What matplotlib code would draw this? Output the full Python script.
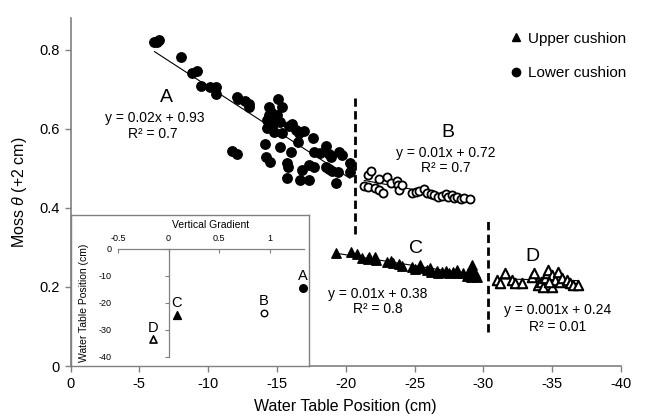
import numpy as np
import matplotlib.pyplot as plt
from matplotlib.lines import Line2D

plt.rcParams['font.family'] = ['Liberation Sans', 'DejaVu Sans']
plt.rcParams['mathtext.fontset'] = 'custom'
plt.rcParams['mathtext.rm'] = 'Liberation Sans'
plt.rcParams['mathtext.it'] = 'Liberation Sans:italic'

# Lower cushion, water table above the break (A, filled circles)
a_wt = [-6.1, -6.3, -6.4, -8.0, -8.8, -9.2, -9.5, -10.1, -10.6, -10.6,
        -12.1, -12.2, -12.7, -13.0, -13.0, -11.7, -12.1,
        -14.4, -15.1, -15.4, -14.6, -14.4, -15.0, -14.3, -14.8, -15.2, -14.3, -14.8, -15.4,
        -14.1, -15.2, -14.2, -14.5, -15.7, -15.8, -15.7, -16.0,
        -15.9, -16.1, -16.4, -16.6, -17.0, -16.5, -17.6, -16.8, -17.3, -17.7, -16.7, -17.3,
        -17.7, -18.1, -18.6, -18.8, -18.9, -19.5, -19.7, -18.6, -18.8, -19.0, -19.4,
        -20.3, -20.3, -19.3]
a_theta = [0.818, 0.820, 0.823, 0.782, 0.742, 0.747, 0.709, 0.706, 0.706, 0.689,
           0.681, 0.676, 0.671, 0.663, 0.656, 0.544, 0.537,
           0.656, 0.676, 0.656, 0.643, 0.635, 0.635, 0.623, 0.615, 0.618, 0.603, 0.592, 0.590,
           0.562, 0.554, 0.529, 0.516, 0.514, 0.504, 0.476, 0.542,
           0.608, 0.613, 0.597, 0.590, 0.595, 0.567, 0.577, 0.496, 0.509, 0.504, 0.471, 0.471,
           0.542, 0.539, 0.557, 0.537, 0.529, 0.542, 0.534, 0.504, 0.499, 0.494, 0.491,
           0.514, 0.491, 0.463]

# Lower cushion, below the break (B, open circles)
b_wt = [-21.35, -21.6, -22.1, -22.4, -22.7, -21.6, -21.8, -22.4, -23.0, -23.3,
        -23.7, -23.8, -23.9, -24.1, -24.8, -25.1, -25.3, -25.7, -25.9, -26.2,
        -26.4, -26.7, -27.0, -27.3, -27.4, -27.7, -27.9, -28.1, -28.4, -28.6, -29.0]
b_theta = [0.456, 0.453, 0.451, 0.446, 0.438, 0.484, 0.494, 0.473, 0.478, 0.463,
           0.468, 0.458, 0.446, 0.458, 0.438, 0.441, 0.443, 0.448, 0.438, 0.435,
           0.433, 0.428, 0.430, 0.435, 0.428, 0.433, 0.425, 0.428, 0.423, 0.425, 0.423]

# Upper cushion, above the second break (C, filled triangles)
c_wt = [-19.3, -20.4, -20.8, -21.2, -21.6, -21.7, -22.1, -22.2, -23.0, -23.3,
        -23.4, -23.9, -24.1, -24.8, -25.0, -25.4, -25.5, -25.9, -26.1, -26.2,
        -26.6, -26.7, -27.0, -27.3, -27.5, -27.8, -28.1, -28.1, -28.5, -28.8,
        -28.9, -29.1, -29.2, -29.4, -29.5, -29.2]
c_theta = [0.286, 0.289, 0.284, 0.273, 0.271, 0.276, 0.276, 0.268, 0.263, 0.266,
           0.261, 0.258, 0.253, 0.251, 0.246, 0.256, 0.248, 0.243, 0.248, 0.238,
           0.241, 0.235, 0.238, 0.241, 0.235, 0.238, 0.243, 0.235, 0.235, 0.228,
           0.235, 0.225, 0.256, 0.235, 0.225, 0.243]

# Upper cushion, below the second break (D, open triangles)
d_wt = [-31.0, -31.2, -31.6, -32.1, -32.3, -32.8, -33.5, -33.7, -34.0, -34.2,
        -34.5, -34.6, -34.7, -35.0, -35.0, -35.2, -35.4, -35.6, -35.7, -36.1,
        -36.3, -36.5, -36.9, -34.3, -34.8]
d_theta = [0.218, 0.210, 0.235, 0.218, 0.210, 0.210, 0.225, 0.235, 0.205, 0.213,
           0.223, 0.235, 0.243, 0.230, 0.200, 0.218, 0.238, 0.213, 0.223, 0.218,
           0.210, 0.205, 0.205, 0.200, 0.213]

eq_labels = {
    'A': ('y = 0.02x + 0.93', 'R² = 0.7'),
    'B': ('y = 0.01x + 0.72', 'R² = 0.7'),
    'C': ('y = 0.01x + 0.38', 'R² = 0.8'),
    'D': ('y = 0.001x + 0.24', 'R² = 0.01'),
}
breaks = [-20.7, -30.3]

# inset: vertical gradient against mean water table position
grad_names = ['A', 'B', 'C', 'D']
grad_x = [1.33, 0.94, 0.08, -0.15]
grad_wt = [-14.4, -23.8, -24.5, -33.5]

axis_col = '#808080'

fig = plt.figure(figsize=(6.53, 4.17), dpi=100)
ax = fig.add_axes([0.108, 0.122, 0.843, 0.835])

ax.scatter(a_wt, a_theta, s=46, marker='o', color='black', zorder=3)
ax.scatter(b_wt, b_theta, s=34, marker='o', facecolor='white', edgecolor='black',
           linewidth=1.3, zorder=3)
ax.scatter(c_wt, c_theta, s=46, marker='^', color='black', zorder=3)
ax.scatter(d_wt, d_theta, s=46, marker='^', facecolor='white', edgecolor='black',
           linewidth=1.5, zorder=3)

# linear trend lines for each group
for xs, ys in [(a_wt, a_theta), (b_wt, b_theta), (c_wt, c_theta), (d_wt, d_theta)]:
    k, b = np.polyfit(xs, ys, 1)
    xx = np.array([max(xs), min(xs)])
    ax.plot(xx, k * xx + b, color='black', lw=0.8, zorder=2)

# break points
ax.plot([breaks[0], breaks[0]], [0.334, 0.678], color='black', lw=2, ls=(0, (3, 1.6)))
ax.plot([breaks[1], breaks[1]], [0.086, 0.375], color='black', lw=2, ls=(0, (3, 1.6)))

# group letters and fit equations
ax.text(-7.0, 0.678, 'A', fontsize=14, ha='center', va='center')
ax.text(-6.1, 0.628, eq_labels['A'][0], fontsize=10, ha='center', va='center')
ax.text(-6.0, 0.587, eq_labels['A'][1], fontsize=10, ha='center', va='center')
ax.text(-27.4, 0.590, 'B', fontsize=14, ha='center', va='center')
ax.text(-27.3, 0.539, eq_labels['B'][0], fontsize=10, ha='center', va='center')
ax.text(-27.3, 0.501, eq_labels['B'][1], fontsize=10, ha='center', va='center')
ax.text(-25.1, 0.298, 'C', fontsize=14, ha='center', va='center')
ax.text(-22.3, 0.182, eq_labels['C'][0], fontsize=10, ha='center', va='center')
ax.text(-22.3, 0.144, eq_labels['C'][1], fontsize=10, ha='center', va='center')
ax.text(-33.6, 0.278, 'D', fontsize=14, ha='center', va='center')
ax.text(-35.4, 0.142, eq_labels['D'][0], fontsize=10, ha='center', va='center')
ax.text(-35.4, 0.099, eq_labels['D'][1], fontsize=10, ha='center', va='center')

ax.set_xlim(0, -40)
ax.set_ylim(0, 0.88)
ax.set_xticks(np.arange(0, -41, -5))
ax.set_xticklabels([str(v) for v in range(0, -41, -5)])
ax.set_yticks([0, 0.2, 0.4, 0.6, 0.8])
ax.set_yticklabels(['0', '0.2', '0.4', '0.6', '0.8'])
ax.tick_params(labelsize=10.5, direction='out', length=4, color=axis_col, width=1)
for side in ['top', 'right']:
    ax.spines[side].set_visible(False)
for side in ['left', 'bottom']:
    ax.spines[side].set_color(axis_col)
    ax.spines[side].set_linewidth(1.2)
ax.set_xlabel('Water Table Position (cm)', fontsize=11.5, labelpad=6)
ax.set_ylabel(r'Moss $\theta$ (+2 cm)', fontsize=11.5, labelpad=8)

handles = [Line2D([], [], marker='^', color='black', ls='none', markersize=6),
           Line2D([], [], marker='o', color='black', ls='none', markersize=6)]
ax.legend(handles, ['Upper cushion', 'Lower cushion'], loc='upper right',
          bbox_to_anchor=(1.035, 1.0), frameon=False, fontsize=11,
          handlelength=0.6, handletextpad=0.5, labelspacing=1.35)

# inset box
box = fig.add_axes([0.108, 0.122, 0.365, 0.362])
box.set_xticks([])
box.set_yticks([])
box.set_facecolor('white')
for sp in box.spines.values():
    sp.set_color(axis_col)
    sp.set_linewidth(1)

ins = fig.add_axes([0.1807, 0.144, 0.285, 0.259])
ins.patch.set_visible(False)
ins.scatter(grad_x[0], grad_wt[0], s=30, marker='o', color='black', clip_on=False)
ins.scatter(grad_x[1], grad_wt[1], s=22, marker='o', facecolor='white',
            edgecolor='black', linewidth=1, clip_on=False)
ins.scatter(grad_x[2], grad_wt[2], s=32, marker='^', color='black', clip_on=False)
ins.scatter(grad_x[3], grad_wt[3], s=26, marker='^', facecolor='white',
            edgecolor='black', linewidth=1.2, clip_on=False)
for name, gx, gy in zip(grad_names, grad_x, grad_wt):
    ins.text(gx, gy + 4.4, name, fontsize=10.5, ha='center', va='center')
ins.set_xlim(-0.5, 1.34)
ins.set_ylim(-40, 0)
ins.xaxis.tick_top()
ins.set_xticks([-0.5, 0, 0.5, 1])
ins.set_xticklabels(['-0.5', '0', '0.5', '1'])
ins.set_yticks([0, -10, -20, -30, -40])
ins.set_yticklabels(['0', '-10', '-20', '-30', '-40'])
ins.spines['left'].set_position(('data', 0))
ins.spines['bottom'].set_visible(False)
ins.spines['right'].set_visible(False)
for side in ['left', 'top']:
    ins.spines[side].set_color(axis_col)
    ins.spines[side].set_linewidth(0.9)
ins.tick_params(axis='x', direction='in', length=3, labelsize=6.5, pad=4, color=axis_col)
ins.tick_params(axis='y', direction='out', length=3, labelsize=6.5, pad=38, color=axis_col)
ins.set_title('Vertical Gradient', fontsize=7.5, pad=15)
ins.text(-0.84, -20, 'Water Table Position (cm)', fontsize=7.5, rotation=90,
         ha='center', va='center')

fig.savefig('out.png', dpi=100)
